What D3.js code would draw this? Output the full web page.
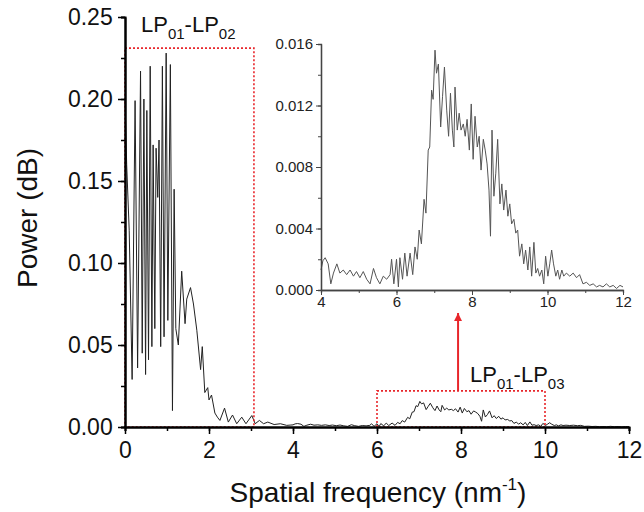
<!DOCTYPE html>
<html>
<head>
<meta charset="utf-8">
<script src="https://cdn.jsdelivr.net/npm/d3@7"></script>
<style>
body { margin: 0; background: #fff; }
svg { font-family: "Liberation Sans", Arial, sans-serif; }
</style>
</head>
<body>
<svg width="644" height="512"></svg>
<script>
// main spectrum, 0 - 4 nm^-1
var mainFreq = [0.00,0.04,0.10,0.17,0.24,0.30,0.37,0.41,0.45,0.49,0.52,0.56,0.60,0.64,0.67,0.71,0.74,0.78,0.81,0.85,
  0.89,0.93,0.98,1.02,1.08,1.13,1.17,1.21,1.27,1.35,1.43,1.47,1.56,1.63,1.71,1.80,1.84,1.90,1.97,2.00,
  2.06,2.14,2.20,2.26,2.37,2.46,2.56,2.66,2.78,2.88,3.02,3.10,3.20,3.30,3.40,3.55,3.70,3.85,3.95];
var mainPower = [0.200,0.160,0.120,0.029,0.199,0.036,0.217,0.045,0.200,0.032,0.193,0.041,0.220,0.049,0.172,0.060,0.170,0.140,0.175,0.049,
  0.220,0.055,0.228,0.065,0.221,0.010,0.145,0.060,0.050,0.095,0.063,0.078,0.085,0.075,0.059,0.035,0.049,0.021,0.024,0.0165,
  0.0195,0.0085,0.006,0.004,0.0115,0.003,0.0073,0.002,0.006,0.002,0.007,0.002,0.004,0.002,0.003,0.0015,0.002,0.001,0.0012];

// LP01-LP03 band, 4 - 12 nm^-1 (inset, also drawn in the main plot)
var insetFreq = [4.00,4.05,4.11,4.19,4.26,4.33,4.42,4.50,4.59,4.68,4.77,4.86,4.94,5.03,5.12,5.21,5.30,5.39,5.47,5.56,
  5.65,5.74,5.83,5.87,5.93,6.00,6.05,6.09,6.16,6.22,6.28,6.36,6.43,6.49,6.55,6.60,6.66,6.73,6.78,6.84,
  6.88,6.93,6.97,7.02,7.06,7.11,7.17,7.22,7.27,7.33,7.38,7.43,7.48,7.52,7.55,7.61,7.66,7.71,7.77,7.82,
  7.87,7.93,7.98,8.03,8.08,8.14,8.19,8.24,8.30,8.35,8.40,8.45,8.49,8.53,8.58,8.63,8.68,8.74,8.79,8.84,
  8.90,8.95,9.00,9.05,9.11,9.16,9.21,9.26,9.32,9.37,9.42,9.48,9.53,9.58,9.64,9.69,9.74,9.79,9.85,9.90,
  9.95,10.01,10.06,10.11,10.16,10.22,10.27,10.32,10.38,10.43,10.50,10.59,10.68,10.77,10.85,10.94,11.03,11.12,11.21,11.30,
  11.38,11.47,11.56,11.65,11.74,11.83,11.92,12.00];
var insetPower = [0.0013,0.0019,0.0021,0.0017,0.0004,0.0011,0.0017,0.0011,0.0013,0.0010,0.0013,0.0009,0.0012,0.0008,0.0012,0.0007,0.0004,0.0014,0.0008,0.0004,
  0.0009,0.0007,0.0010,0.0020,0.0004,0.0020,0.0002,0.0021,0.0007,0.0024,0.0009,0.0024,0.0010,0.0028,0.0020,0.0039,0.0030,0.0059,0.0050,0.0091,
  0.0093,0.0130,0.0124,0.0156,0.0141,0.0147,0.0106,0.0126,0.0145,0.0117,0.0100,0.0128,0.0104,0.0093,0.0132,0.0104,0.0115,0.0104,0.0108,0.0100,
  0.0111,0.0091,0.0121,0.0085,0.0113,0.0093,0.0100,0.0078,0.0098,0.0091,0.0082,0.0065,0.0035,0.0104,0.0061,0.0076,0.0098,0.0056,0.0069,0.0052,
  0.0065,0.0048,0.0056,0.0043,0.0046,0.0037,0.0039,0.0022,0.0030,0.0017,0.0026,0.0013,0.0028,0.0009,0.0031,0.0011,0.0014,0.0009,0.0013,0.0004,
  0.0022,0.0009,0.0017,0.0026,0.0017,0.0009,0.0013,0.0007,0.0013,0.0009,0.0011,0.0009,0.0011,0.0008,0.0010,0.0004,0.0005,0.0003,0.0004,0.0002,
  0.0003,0.0002,0.0004,0.0002,0.0003,0.0001,0.0003,0.0002];

var mainXTicks = [0,2,4,6,8,10,12];
var mainYTicks = [0,0.05,0.10,0.15,0.20,0.25];
var insetXTicks = [4,6,8,10,12];
var insetYTicks = [0,0.004,0.008,0.012,0.016];

var red = "#e8262b";
var svg = d3.select("svg");

var x = d3.scaleLinear().domain([0,12]).range([125,629]);
var y = d3.scaleLinear().domain([0,0.25]).range([427,17]);

// main line: 0-4 part plus the 4-12 band
var mainPts = mainFreq.map((f,i)=>[f,mainPower[i]])
  .concat(insetFreq.map((f,i)=>[f,insetPower[i]]));

var line = d3.line().x(d=>x(d[0])).y(d=>y(d[1]));
svg.append("path")
  .attr("d", line(mainPts))
  .attr("fill","none")
  .attr("stroke","#222")
  .attr("stroke-width",1);

// red dotted boxes
svg.append("rect")
  .attr("x",x(0)).attr("y",y(0.231))
  .attr("width",x(3.07)-x(0)).attr("height",y(0)-y(0.231))
  .attr("fill","none").attr("stroke",red).attr("stroke-width",1.6).attr("stroke-dasharray","2,2");
svg.append("rect")
  .attr("x",x(6)).attr("y",y(0.022))
  .attr("width",x(10)-x(6)).attr("height",y(0)-y(0.022))
  .attr("fill","none").attr("stroke",red).attr("stroke-width",1.6).attr("stroke-dasharray","2,2");

// arrow up to the inset
svg.append("defs").append("marker")
  .attr("id","arr").attr("viewBox","0 0 10 10").attr("refX",10).attr("refY",5)
  .attr("markerUnits","userSpaceOnUse")
  .attr("markerWidth",11).attr("markerHeight",8).attr("orient","auto")
  .append("path").attr("d","M0,0 L10,5 L0,10 Z").attr("fill",red);
svg.append("line")
  .attr("x1",x(7.93)).attr("x2",x(7.93))
  .attr("y1",y(0.022)).attr("y2",313)
  .attr("stroke",red).attr("stroke-width",2)
  .attr("marker-end","url(#arr)");

// main axes
var gx = svg.append("g").attr("transform","translate(0,427)");
gx.call(d3.axisBottom(x).tickValues(d3.range(0,13,1)).tickSize(4).tickFormat(""));
gx.append("g").call(d3.axisBottom(x).tickValues(mainXTicks).tickSize(7).tickSizeOuter(0).tickFormat(d3.format("d")));
var gy = svg.append("g").attr("transform","translate(125,0)");
gy.call(d3.axisLeft(y).tickValues(d3.range(0,0.26,0.025)).tickSize(4).tickFormat(""));
gy.append("g").call(d3.axisLeft(y).tickValues(mainYTicks).tickSize(7).tickSizeOuter(0).tickFormat(d3.format(".2f")));
[gx,gy].forEach(g=>{
  g.selectAll("path.domain").attr("stroke","#000").attr("stroke-width",2);
  g.selectAll("line").attr("stroke","#000").attr("stroke-width",1.5);
  g.selectAll("text").attr("font-size",23).attr("fill","#111");
});
gx.selectAll("text").attr("dy","0.9em");
gy.selectAll("text").attr("dx","-0.1em");

// axis titles
var xt = svg.append("text").attr("x",378).attr("y",502).attr("text-anchor","middle")
  .attr("font-size",28).attr("fill","#111");
xt.append("tspan").text("Spatial frequency (nm");
xt.append("tspan").text("-1").attr("font-size",17).attr("dy",-12);
xt.append("tspan").text(")").attr("dy",12);

svg.append("text").attr("transform","translate(37,218) rotate(-90)")
  .attr("text-anchor","middle").attr("font-size",28).attr("fill","#111")
  .text("Power (dB)");

// mode labels
function modeLabel(px,py,sub2){
  var t = svg.append("text").attr("x",px).attr("y",py).attr("font-size",22).attr("fill","#111");
  t.append("tspan").text("LP");
  t.append("tspan").text("01").attr("font-size",15).attr("dy",7);
  t.append("tspan").text("-LP").attr("dy",-7);
  t.append("tspan").text(sub2).attr("font-size",15).attr("dy",7);
}
modeLabel(141,32,"02");
modeLabel(470,382,"03");

// inset
var ix = d3.scaleLinear().domain([4,12]).range([321,623]);
var iy = d3.scaleLinear().domain([0,0.016]).range([290,44]);
var iline = d3.line().x(d=>ix(d[0])).y(d=>iy(d[1]));
svg.append("path")
  .attr("d", iline(insetFreq.map((f,i)=>[f,insetPower[i]])))
  .attr("fill","none").attr("stroke","#555").attr("stroke-width",1);

var ig = svg.append("g").attr("transform","translate(0,290)");
ig.call(d3.axisBottom(ix).tickValues(d3.range(4,13,1)).tickSize(3).tickFormat(""));
ig.append("g").call(d3.axisBottom(ix).tickValues(insetXTicks).tickSize(5).tickSizeOuter(0).tickFormat(d3.format("d")));
var iyg = svg.append("g").attr("transform","translate(321,0)");
iyg.call(d3.axisLeft(iy).tickValues(d3.range(0,0.0161,0.002)).tickSize(3).tickFormat(""));
iyg.append("g").call(d3.axisLeft(iy).tickValues(insetYTicks).tickSize(5).tickSizeOuter(0).tickFormat(d3.format(".3f")));
[ig,iyg].forEach(g=>{
  g.selectAll("path.domain").attr("stroke","#444").attr("stroke-width",1.3);
  g.selectAll("line").attr("stroke","#444").attr("stroke-width",1);
  g.selectAll("text").attr("font-size",15).attr("fill","#222");
});
ig.selectAll("text").attr("dy","0.6em");
</script>
</body>
</html>
